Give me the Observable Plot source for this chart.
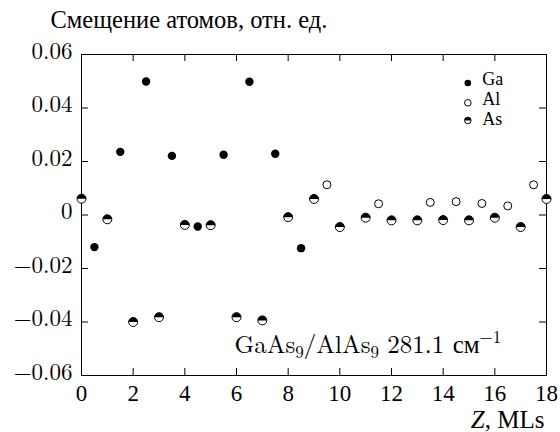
<!DOCTYPE html>
<html>
<head>
<meta charset="utf-8">
<script src="https://cdn.jsdelivr.net/npm/d3@7"></script>
<script src="https://cdn.jsdelivr.net/npm/@observablehq/plot@0.6"></script>
<style>
  html, body { margin: 0; padding: 0; background: white; }
</style>
</head>
<body>
<div id="chart"></div>
<script>
// Atomic displacements across the GaAs9/AlAs9 superlattice (mode at 281.1 cm^-1)
const gaZ = [0.5, 1.5, 2.5, 3.5, 4.5, 5.5, 6.5, 7.5, 8.5];
const gaU = [-0.0120, 0.0236, 0.0499, 0.0221, -0.0043, 0.0225, 0.0498, 0.0229, -0.0124];

const alZ = [9.5, 11.5, 13.5, 14.5, 15.5, 16.5, 17.5];
const alU = [0.0113, 0.0042, 0.0047, 0.0050, 0.0043, 0.0034, 0.0113];

const asZ = [0, 1, 2, 3, 4, 5, 6, 7, 8, 9, 10, 11, 12, 13, 14, 15, 16, 17, 18];
const asU = [0.0061, -0.0016, -0.0400, -0.0382, -0.0037, -0.0038, -0.0382, -0.0394, -0.0008,
             0.0060, -0.0045, -0.0010, -0.0020, -0.0020, -0.0019, -0.0020, -0.0010, -0.0045, 0.0060];

const xTicks = [0, 2, 4, 6, 8, 10, 12, 14, 16, 18];
const yTicks = [-0.06, -0.04, -0.02, 0, 0.02, 0.04, 0.06];

const legendLabels = ["Ga", "Al", "As"];
const titleText = "Смещение атомов, отн. ед.";
const annotationText = "GaAs9/AlAs9 281.1 см−1";
const xLabelText = "Z, MLs";

const ga = gaZ.map((z, i) => ({z, u: gaU[i]}));
const al = alZ.map((z, i) => ({z, u: alU[i]}));
const as = asZ.map((z, i) => ({z, u: asU[i]}));

// upper half of a circle, used to draw the half-filled As markers
const topHalf = {
  draw(context, size) {
    const r = Math.sqrt(size / Math.PI);
    context.moveTo(r, 0);
    context.arc(0, 0, r, 0, Math.PI, true);
    context.closePath();
  }
};

const FONT = '"Latin Modern Roman", "Liberation Serif", serif';
const TIMES = '"Liberation Serif", serif';
const W = 560, H = 432;
const mL = 81, mR = 14, mT = 54, mB = 57;
const innerW = W - mL - mR, innerH = H - mT - mB;
const tickLen = 7;
const fmtY = d => d === 0 ? "0" : d.toFixed(2).replace("-", "−");

// legend markers (one row per species) and a single multi-line label block
const legendStyles = [
  {fill: "black", stroke: "none", half: false},
  {fill: "white", stroke: "black", half: false},
  {fill: "white", stroke: "black", half: true}
];
const legendDotDy = [28.5, 48.3, 66];
const legendMarks = legendLabels.flatMap((label, i) => {
  const s = legendStyles[i];
  const marks = [
    Plot.dot([label], {frameAnchor: "top-right", dx: -78.7, dy: legendDotDy[i], r: 3.3,
      fill: s.fill, stroke: s.stroke, strokeWidth: 1})
  ];
  if (s.half) marks.push(Plot.dot([label], {frameAnchor: "top-right", dx: -78.7, dy: legendDotDy[i],
      r: 3.3, symbol: topHalf, fill: "black"}));
  return marks;
});
legendMarks.push(Plot.text([legendLabels.join("\n")], {text: d => d, frameAnchor: "top-right",
  dx: -64.3, dy: 70, textAnchor: "start", lineAnchor: "bottom", lineHeight: 20 / 18,
  fontSize: 18, fontFamily: TIMES}));

const chart = Plot.plot({
  width: W,
  height: H,
  marginLeft: mL,
  marginRight: mR,
  marginTop: mT,
  marginBottom: mB,
  x: {domain: [0, 18]},
  y: {domain: [-0.06, 0.06]},
  style: {fontSize: "22px", color: "black", background: "white"},
  marks: [
    // inward ticks on all four sides
    Plot.tickY(yTicks, {y: d => d, insetRight: innerW - tickLen, stroke: "black"}),
    Plot.tickY(yTicks, {y: d => d, insetLeft: innerW - tickLen, stroke: "black"}),
    Plot.tickX(xTicks, {x: d => d, insetTop: innerH - tickLen, stroke: "black"}),
    Plot.tickX(xTicks, {x: d => d, insetBottom: innerH - tickLen, stroke: "black"}),
    Plot.frame({stroke: "black", strokeWidth: 1}),
    Plot.axisY({ticks: yTicks, tickSize: 0, tickPadding: 9, tickFormat: fmtY, label: null, dy: -3,
      fontSize: 23, fontFamily: FONT}),
    Plot.axisX({ticks: xTicks, tickSize: 0, tickPadding: 9, label: null, fontSize: 23, fontFamily: TIMES}),

    // data
    Plot.dot(ga, {x: "z", y: "u", r: 4.2, fill: "black"}),
    Plot.dot(al, {x: "z", y: "u", r: 4, fill: "white", stroke: "black", strokeWidth: 1}),
    Plot.dot(as, {x: "z", y: "u", r: 4.5, fill: "white", stroke: "black", strokeWidth: 1}),
    Plot.dot(as, {x: "z", y: "u", r: 4.5, symbol: topHalf, fill: "black"}),

    ...legendMarks,

    // title, annotation and x label
    Plot.text([titleText], {text: d => d, frameAnchor: "top-left", dx: -31, dy: -27,
      textAnchor: "start", lineAnchor: "bottom", fontSize: 24.5, fontFamily: TIMES}),
    Plot.text([annotationText], {text: d => d, frameAnchor: "bottom-left", dx: 153, dy: -23,
      textAnchor: "start", lineAnchor: "bottom", fontSize: 25, fontFamily: FONT}),
    Plot.text([xLabelText], {text: d => d, frameAnchor: "bottom-right", dx: -2, dy: 52.5,
      textAnchor: "end", lineAnchor: "bottom", fontSize: 25, fontFamily: TIMES})
  ]
});

document.getElementById("chart").appendChild(chart);

// apply each mark's typeface directly on its text elements
for (const t of chart.querySelectorAll("text")) {
  const g = t.closest("g[font-family]");
  const fam = g ? g.getAttribute("font-family") : FONT;
  t.style.setProperty("font-family", fam, "important");
}

// rich text: subscripts, superscript and italic variable
function setRich(text, parts) {
  while (text.firstChild) text.removeChild(text.firstChild);
  for (const p of parts) {
    const ts = document.createElementNS("http://www.w3.org/2000/svg", "tspan");
    ts.textContent = p.t;
    if (p.dy) ts.setAttribute("dy", p.dy);
    if (p.size) ts.setAttribute("font-size", p.size);
    if (p.italic) ts.setAttribute("font-style", "italic");
    text.appendChild(ts);
  }
}
for (const t of chart.querySelectorAll("text")) {
  const s = t.textContent;
  if (s === annotationText) {
    setRich(t, [
      {t: "GaAs"}, {t: "9", dy: 5, size: 17}, {t: "/AlAs", dy: -5}, {t: "9", dy: 5, size: 17},
      {t: " 281.1 см", dy: -5}, {t: "−1", dy: -10, size: 17}
    ]);
  } else if (s === xLabelText) {
    setRich(t, [{t: "Z", italic: true}, {t: ", MLs"}]);
  }
}
</script>
</body>
</html>
